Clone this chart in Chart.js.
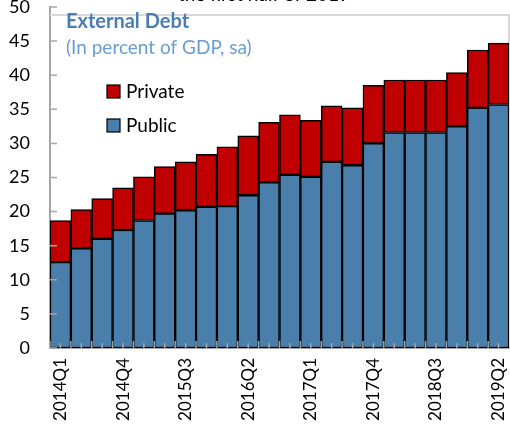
<!DOCTYPE html>
<html>
<head>
<meta charset="utf-8">
<script src="https://cdn.jsdelivr.net/npm/chart.js@4/dist/chart.umd.min.js"></script>
<style>
  html, body { margin: 0; padding: 0; background: #fff; }
  #wrap { width: 510px; height: 435px; position: relative; }
</style>
</head>
<body>
<div id="wrap"><canvas id="c" width="510" height="435"></canvas></div>
<script>
const quarters = ["2014Q1","2014Q2","2014Q3","2014Q4","2015Q1","2015Q2","2015Q3","2015Q4",
  "2016Q1","2016Q2","2016Q3","2016Q4","2017Q1","2017Q2","2017Q3","2017Q4",
  "2018Q1","2018Q2","2018Q3","2018Q4","2019Q1","2019Q2"];
const publicDebt = [12.6,14.6,16.0,17.3,18.7,19.7,20.2,20.7,20.8,22.4,24.3,25.4,25.1,27.3,26.8,30.0,31.6,31.6,31.6,32.5,35.2,35.7];
const privateDebt = [6.1,5.7,5.9,6.2,6.4,6.9,7.1,7.7,8.7,8.7,8.8,8.8,8.3,8.2,8.4,8.5,7.7,7.7,7.7,7.9,8.5,9.0];
const yTicks = [0,5,10,15,20,25,30,35,40,45,50];
const titleText = "External Debt";
const subtitleText = "(In percent of GDP, sa)";
const cutTitle = "the first half of 2019";

const RED = "#C00000";
const BLUE = "#4A7EAB";
const FONT = "Lato, 'Open Sans', sans-serif";

const decor = {
  id: 'decor',
  beforeDatasetsDraw(chart) {
    const ctx = chart.ctx, a = chart.chartArea;
    ctx.save();
    ctx.strokeStyle = '#D9D9D9';
    ctx.lineWidth = 2;
    ctx.beginPath();
    ctx.moveTo(a.left, a.top + 8);
    ctx.lineTo(a.right, a.top + 8);
    ctx.lineTo(a.right, a.bottom);
    ctx.stroke();
    ctx.restore();
  },
  afterDatasetsDraw(chart) {
    const ctx = chart.ctx, a = chart.chartArea;
    const xs = chart.scales.x, ys = chart.scales.y;
    ctx.save();
    ctx.strokeStyle = '#A6A6A6';
    ctx.lineWidth = 1.5;
    ctx.beginPath();
    yTicks.forEach(v => {
      const y = ys.getPixelForValue(v);
      ctx.moveTo(a.left, y);
      ctx.lineTo(a.left + 7, y);
    });
    quarters.forEach((q, i) => {
      const xc = xs.getPixelForValue(i);
      const w = xs.getPixelForValue(1) - xs.getPixelForValue(0);
      ctx.moveTo(xc, a.bottom);
      ctx.lineTo(xc, a.bottom - 5);
      const xb = xc - w / 2;
      ctx.moveTo(xb, a.bottom);
      ctx.lineTo(xb, a.bottom - 7);
    });
    ctx.stroke();
    ctx.restore();

    ctx.save();
    ctx.textBaseline = 'middle';
    ctx.textAlign = 'left';
    ctx.fillStyle = '#4B7DB1';
    ctx.font = "bold 20px " + FONT;
    ctx.fillText(titleText, 66, 22);
    ctx.fillStyle = '#6A9ED3';
    ctx.font = "19px " + FONT;
    ctx.fillText(subtitleText, 66, 48);
    ctx.fillStyle = '#000';
    ctx.textAlign = 'center';
    ctx.textBaseline = 'alphabetic';
    ctx.font = "19px " + FONT;
    ctx.fillText(cutTitle, 264, 1);

    const items = [
      { label: chart.data.datasets[1].label, color: chart.data.datasets[1].backgroundColor, y: 92 },
      { label: chart.data.datasets[0].label, color: chart.data.datasets[0].backgroundColor, y: 126 }
    ];
    ctx.textAlign = 'left';
    ctx.textBaseline = 'middle';
    ctx.font = "19px " + FONT;
    items.forEach(it => {
      ctx.fillStyle = it.color;
      ctx.fillRect(107, it.y - 7, 13, 13);
      ctx.strokeStyle = '#000';
      ctx.lineWidth = 1.2;
      ctx.strokeRect(107, it.y - 7, 13, 13);
      ctx.fillStyle = '#000';
      ctx.fillText(it.label, 126, it.y);
    });
    ctx.restore();
  }
};

new Chart(document.getElementById('c'), {
  type: 'bar',
  data: {
    labels: quarters,
    datasets: [
      { label: 'Public', data: publicDebt, backgroundColor: BLUE, borderColor: '#000', borderWidth: 1.5, borderSkipped: false, categoryPercentage: 1, barPercentage: 1 },
      { label: 'Private', data: privateDebt, backgroundColor: RED, borderColor: '#000', borderWidth: 1.5, borderSkipped: false, categoryPercentage: 1, barPercentage: 1 }
    ]
  },
  options: {
    responsive: false,
    animation: false,
    devicePixelRatio: 1,
    layout: { padding: { top: 7, right: 1, left: 0, bottom: 0 } },
    plugins: { legend: { display: false }, tooltip: { enabled: false }, title: { display: false } },
    scales: {
      x: {
        stacked: true,
        grid: { display: false, drawTicks: false },
        border: { display: true, color: '#A6A6A6', width: 2 },
        ticks: {
          autoSkip: false, minRotation: 90, maxRotation: 90, padding: 10,
          color: '#000', font: { family: FONT, size: 17 },
          callback: function(v, i) { return i % 3 === 0 ? quarters[i] : ''; }
        },
        afterFit(scale) {
          scale.height = 87;
          scale.paddingLeft = 0; scale.paddingRight = 0;
        }
      },
      y: {
        stacked: true,
        min: 0, max: 50,
        grid: { display: false, drawTicks: false },
        border: { display: true, color: '#A6A6A6', width: 2 },
        ticks: { stepSize: 5, padding: 20, color: '#000', font: { family: FONT, size: 18 } },
        afterFit(scale) {
          scale.width = 50;
          scale.paddingTop = 0; scale.paddingBottom = 0;
        }
      }
    }
  },
  plugins: [decor]
});
</script>
</body>
</html>
